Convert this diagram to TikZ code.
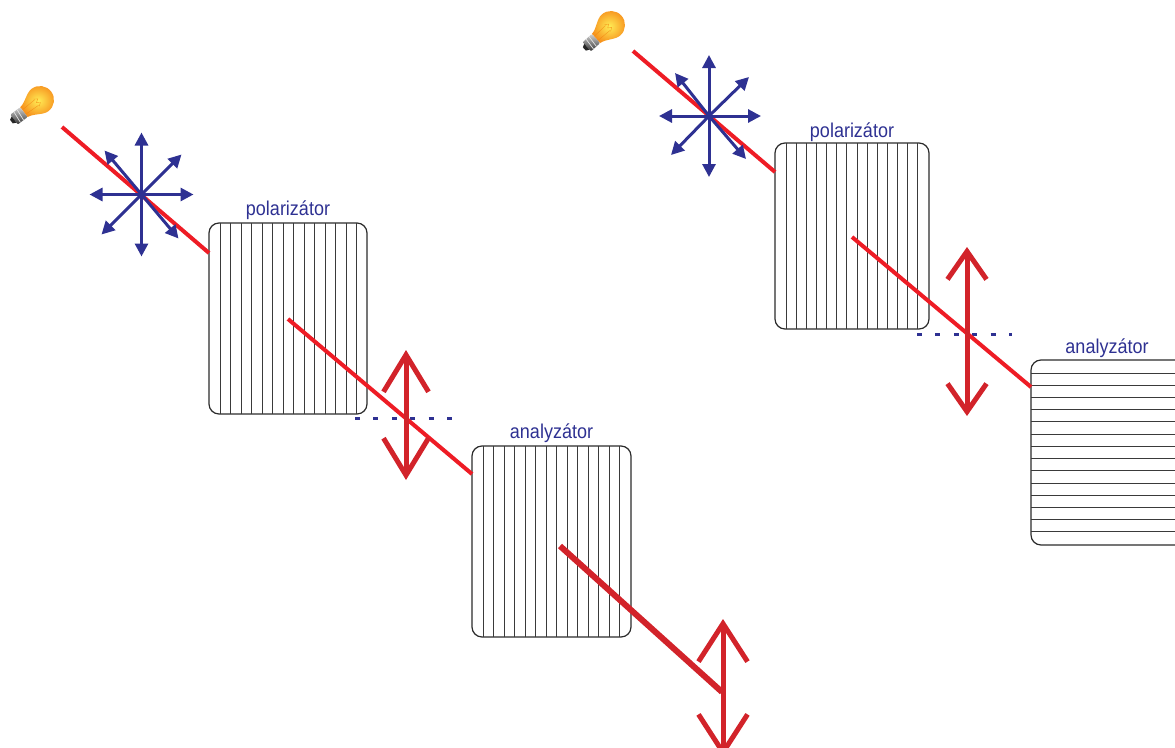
\documentclass[tikz,border=0pt]{standalone}
\usepackage{fontspec}
\newfontfamily\labfont[FakeStretch=0.9]{Liberation Sans}
\usetikzlibrary{arrows.meta}

\definecolor{beamred}{HTML}{EE1C25}
\definecolor{arrred}{HTML}{D2232A}
\definecolor{navy}{HTML}{2E3192}
\definecolor{boxline}{HTML}{2B2B2B}
\definecolor{stripeline}{HTML}{3A3A3A}
\definecolor{glassin}{HTML}{FFEC55}
\definecolor{glassout}{HTML}{F7931E}

\tikzset{
  filter/.style={draw=boxline, line width=1.2pt, rounded corners=10pt, inner sep=0pt, outer sep=0pt},
  stripe/.style={draw=stripeline, line width=1pt},
  beam/.style={draw=beamred, line width=4pt},
  beamdark/.style={draw=arrred, line width=6pt},
  polvec/.style={draw=arrred, line width=5pt},
  vib/.style={draw=navy, line width=3pt, -{Triangle[length=13pt,width=13pt]}},
  axisdots/.style={draw=navy, line width=3pt, dash pattern=on 5pt off 13.4pt},
  lbl/.style={text=navy, font=\labfont\fontsize{20}{24}\selectfont, anchor=base, inner sep=0pt},
  bulb/.pic={
    % glass
    \shade[inner color=glassin, outer color=glassout]
      (-5.5,18) .. controls (-6,12) and (-12.5,6) .. (-12.5,0)
      arc[start angle=180, end angle=0, radius=12.5pt]
      .. controls (12.5,6) and (6,12) .. (5.5,18) -- cycle;
    % filament
    \draw[orange!80!brown, line width=0.4pt, opacity=0.7]
      (-2.5,17) -- (-3,4) (2.5,17) -- (3,4)
      (-4,4) -- (-2,1) -- (0,4) -- (2,1) -- (4,4);
    % screw base
    \shade[top color=gray!35, bottom color=black!80, rounded corners=1pt]
      (-5.5,18) rectangle (5.5,29);
    \draw[gray!20, line width=0.7pt] (-5.5,21.5) -- (5.5,22.5) (-5.5,25) -- (5.5,26);
    \fill[black!85] (-3.5,29) -- (3.5,29) -- (2,32) -- (-2,32) -- cycle;
  },
}

\begin{document}
\begin{tikzpicture}[x=1pt, y=-1pt]
\useasboundingbox (0,0) rectangle (1175,747);
\clip (0,0) rectangle (1175,747);

% ---------- filters ----------
\node[filter, minimum width=158pt, minimum height=191pt] (pol1) at (288,318.5) {};
\node[filter, minimum width=159pt, minimum height=191pt] (ana1) at (551.5,541.5) {};
\node[filter, minimum width=154pt, minimum height=186pt] (pol2) at (852,236) {};
\node[filter, minimum width=170pt, minimum height=185pt] (ana2) at (1116,452.5) {};

% transmission axes
\foreach \i in {0,...,13} {
  \draw[stripe] ([xshift={(11+10.5*\i)*1pt}]pol1.north west) -- ([xshift={(11+10.5*\i)*1pt}]pol1.south west);
  \draw[stripe] ([xshift={(11+10.5*\i)*1pt}]ana1.north west) -- ([xshift={(11+10.5*\i)*1pt}]ana1.south west);
  \draw[stripe] ([xshift={(11+10.15*\i)*1pt}]pol2.north west) -- ([xshift={(11+10.15*\i)*1pt}]pol2.south west);
  \draw[stripe] ([yshift={-(13+12.23*\i)*1pt}]ana2.north west) -- ([yshift={-(13+12.23*\i)*1pt}]ana2.north east);
}

% labels
\node[lbl] (lp1) at (288,215) {polarizátor};
\node[lbl] (la1) at (551.5,438.5) {analyzátor};
\node[lbl] (lp2) at (852,137) {polarizátor};
\node[lbl] (la2) at (1107,353) {analyzátor};

% ---------- light sources ----------
\pic[rotate=-53, scale=1.12] (lamp1) at (40,100) {bulb};
\pic[rotate=-48, scale=1.12] (lamp2) at (611,25) {bulb};

% ---------- left set-up ----------
\coordinate (b1s) at (62,127);
\coordinate (b1e) at (209,253);
\coordinate (b2s) at (288,319);
\coordinate (b2e) at (472,474);
\coordinate (b3s) at (560,546);
\coordinate (b3e) at (722,692);
\coordinate (st1) at (141.5,194.5);
\coordinate (ax1a) at (355,418.5);
\coordinate (ax1b) at (452,418.5);
\coordinate (pv1t) at (406,350);
\coordinate (pv1b) at (406,480);
\coordinate (pv3t) at (723,619);
\coordinate (pv3b) at (723,757);

\draw[axisdots] (ax1a) -- (ax1b);
\draw[beam] (b1s) -- (b1e);
\draw[beam] (b2s) -- (b2e);
\draw[beamdark] (b3s) -- (b3e);
\draw[polvec, {Straight Barb[length=37pt,width=45pt]}-{Straight Barb[length=37pt,width=45pt]}] (pv1t) -- (pv1b);
\draw[polvec, {Straight Barb[length=38pt,width=49pt]}-{Straight Barb[length=38pt,width=49pt]}] (pv3t) -- (pv3b);
\foreach \dx/\dy in {0/-62, 0/62, -52/0, 52/0, 40/-40, -40/40, -37/-44, 37/44}
  \draw[vib] (st1) -- ++(\dx,\dy);

% ---------- right set-up ----------
\coordinate (c1s) at (633,51);
\coordinate (c1e) at (775,172);
\coordinate (c2s) at (852,237);
\coordinate (c2e) at (1031,387);
\coordinate (st2) at (709,116);
\coordinate (ax2a) at (917,334);
\coordinate (ax2b) at (1012,334);
\coordinate (pv2t) at (967,247);
\coordinate (pv2b) at (967,416);

\draw[axisdots] (ax2a) -- (ax2b);
\draw[beam] (c1s) -- (c1e);
\draw[beam] (c2s) -- (c2e);
\draw[polvec, {Straight Barb[length=28pt,width=39pt]}-{Straight Barb[length=28pt,width=39pt]}] (pv2t) -- (pv2b);
\foreach \dx/\dy in {0/-61, 0/61, -50/0, 52/0, 40/-39, -38/39, -34/-43, 37/43}
  \draw[vib] (st2) -- ++(\dx,\dy);
\end{tikzpicture}
\end{document}
